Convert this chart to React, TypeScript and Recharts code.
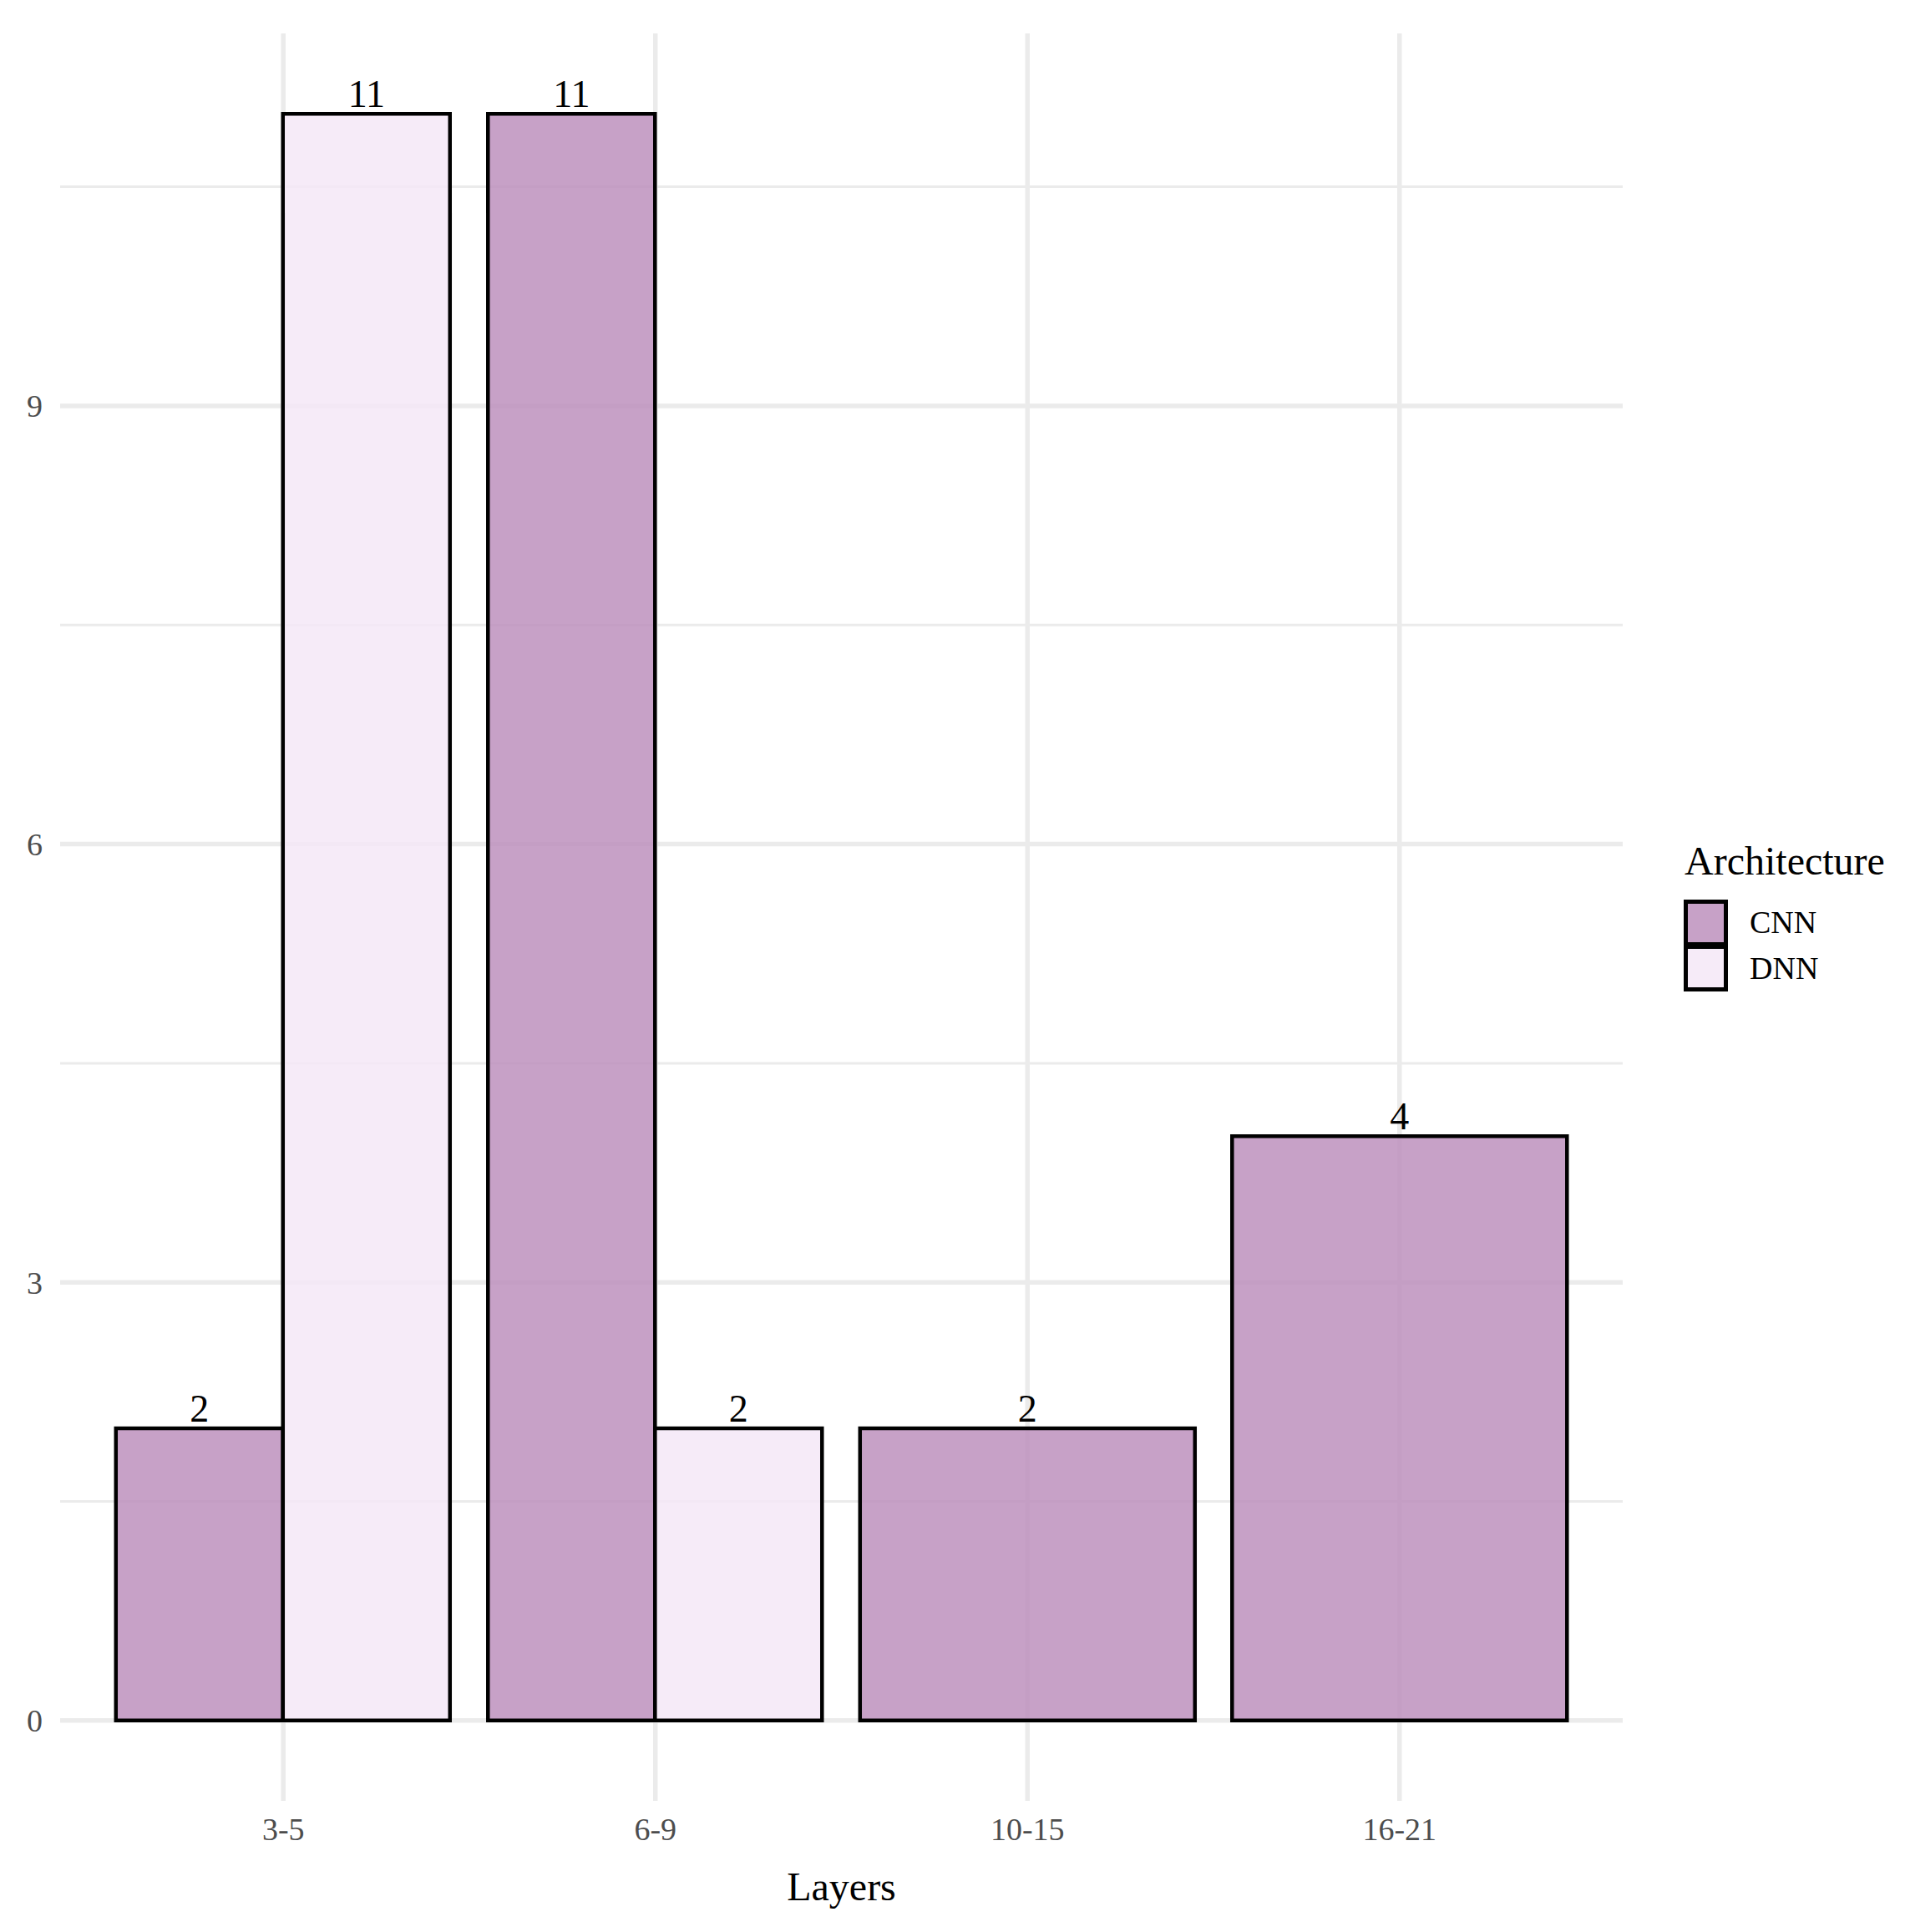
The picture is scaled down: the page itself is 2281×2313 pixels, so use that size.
import * as React from "react"
import {
  Bar,
  BarChart,
  CartesianGrid,
  LabelList,
  Label,
  ReferenceLine,
  XAxis,
  YAxis,
} from "recharts"

const layers = ["3-5", "6-9", "10-15", "16-21"]
const cnnCounts = [2, 11, 2, 4]
const dnnCounts: (number | null)[] = [11, 2, null, null]
const yTicks = [0, 3, 6, 9]
const yMinor = [1.5, 4.5, 7.5, 10.5]
const seriesNames = ["CNN", "DNN"]

const cnnColor = "#BD91BD"
const dnnColor = "#F4E8F7"
const serif = "'Liberation Serif', 'Times New Roman', serif"

// ggplot dodges to full width when a group has only one bar,
// so lone CNN bars go on their own (hidden) x axis
const data = layers.map((layer, i) => ({
  layer,
  cnn: dnnCounts[i] != null ? cnnCounts[i] : null,
  dnn: dnnCounts[i],
  cnnSolo: dnnCounts[i] == null ? cnnCounts[i] : null,
}))

const W = 2281
const H = 2313
// 0.6 band expansion on each side like ggplot's discrete scale
const xPad = { left: 44.5, right: 44.5 }

function LegendBox() {
  const fills = [cnnColor, dnnColor]
  return (
    <svg
      width={281}
      height={240}
      style={{ position: "absolute", left: 2000, top: 990 }}
    >
      <text x={17} y={57} fontSize={48} fontFamily={serif} fill="#000">
        Architecture
      </text>
      {seriesNames.map((name, i) => (
        <g key={name}>
          <rect
            x={18.5}
            y={89.5 + i * 54}
            width={48}
            height={51}
            fill={fills[i]}
            fillOpacity={0.85}
            stroke="#000"
            strokeWidth={5}
          />
          <text
            x={95}
            y={127 + i * 55}
            fontSize={38}
            fontFamily={serif}
            fill="#000"
          >
            {name}
          </text>
        </g>
      ))}
    </svg>
  )
}

export default function App() {
  const labelStyle = { fontSize: 46, fontFamily: serif, fill: "#000" }
  return (
    <div
      style={{
        position: "absolute",
        left: 0,
        top: 0,
        width: W,
        height: H,
        background: "#fff",
      }}
    >
      <BarChart
        width={W}
        height={H}
        data={data}
        margin={{ top: 40, right: 338, left: 0, bottom: 0 }}
        barCategoryGap="5%"
        barGap={0}
      >
        <CartesianGrid stroke="#EBEBEB" strokeWidth={5.5} syncWithTicks />
        {yMinor.map((v) => (
          <ReferenceLine
            key={v}
            y={v}
            stroke="#EBEBEB"
            strokeWidth={3}
            zIndex={-100}
          />
        ))}
        <XAxis
          dataKey="layer"
          height={157}
          padding={xPad}
          axisLine={false}
          tickLine={false}
          tickSize={0}
          tickMargin={20}
          tick={{ fontSize: 38, fontFamily: serif, fill: "#4D4D4D" }}
        >
          <Label
            value="Layers"
            position="insideBottom"
            offset={38}
            style={{ fontSize: 48, fontFamily: serif, fill: "#000" }}
          />
        </XAxis>
        <XAxis xAxisId="solo" dataKey="layer" padding={xPad} hide />
        <YAxis
          type="number"
          domain={[-0.55, 11.55]}
          allowDataOverflow
          ticks={yTicks}
          interval={0}
          width={72}
          axisLine={false}
          tickLine={false}
          tickSize={0}
          tickMargin={21}
          tick={{ fontSize: 38, fontFamily: serif, fill: "#4D4D4D" }}
        />
        <Bar
          dataKey="cnn"
          name={seriesNames[0]}
          fill={cnnColor}
          fillOpacity={0.85}
          stroke="#000"
          strokeWidth={4.5}
          isAnimationActive={false}
        >
          <LabelList dataKey="cnn" position="top" offset={8} style={labelStyle} />
        </Bar>
        <Bar
          dataKey="dnn"
          name={seriesNames[1]}
          fill={dnnColor}
          fillOpacity={0.85}
          stroke="#000"
          strokeWidth={4.5}
          isAnimationActive={false}
        >
          <LabelList dataKey="dnn" position="top" offset={8} style={labelStyle} />
        </Bar>
        <Bar
          dataKey="cnnSolo"
          xAxisId="solo"
          name={seriesNames[0]}
          fill={cnnColor}
          fillOpacity={0.85}
          stroke="#000"
          strokeWidth={4.5}
          isAnimationActive={false}
        >
          <LabelList dataKey="cnnSolo" position="top" offset={8} style={labelStyle} />
        </Bar>
      </BarChart>
      <LegendBox />
    </div>
  )
}
